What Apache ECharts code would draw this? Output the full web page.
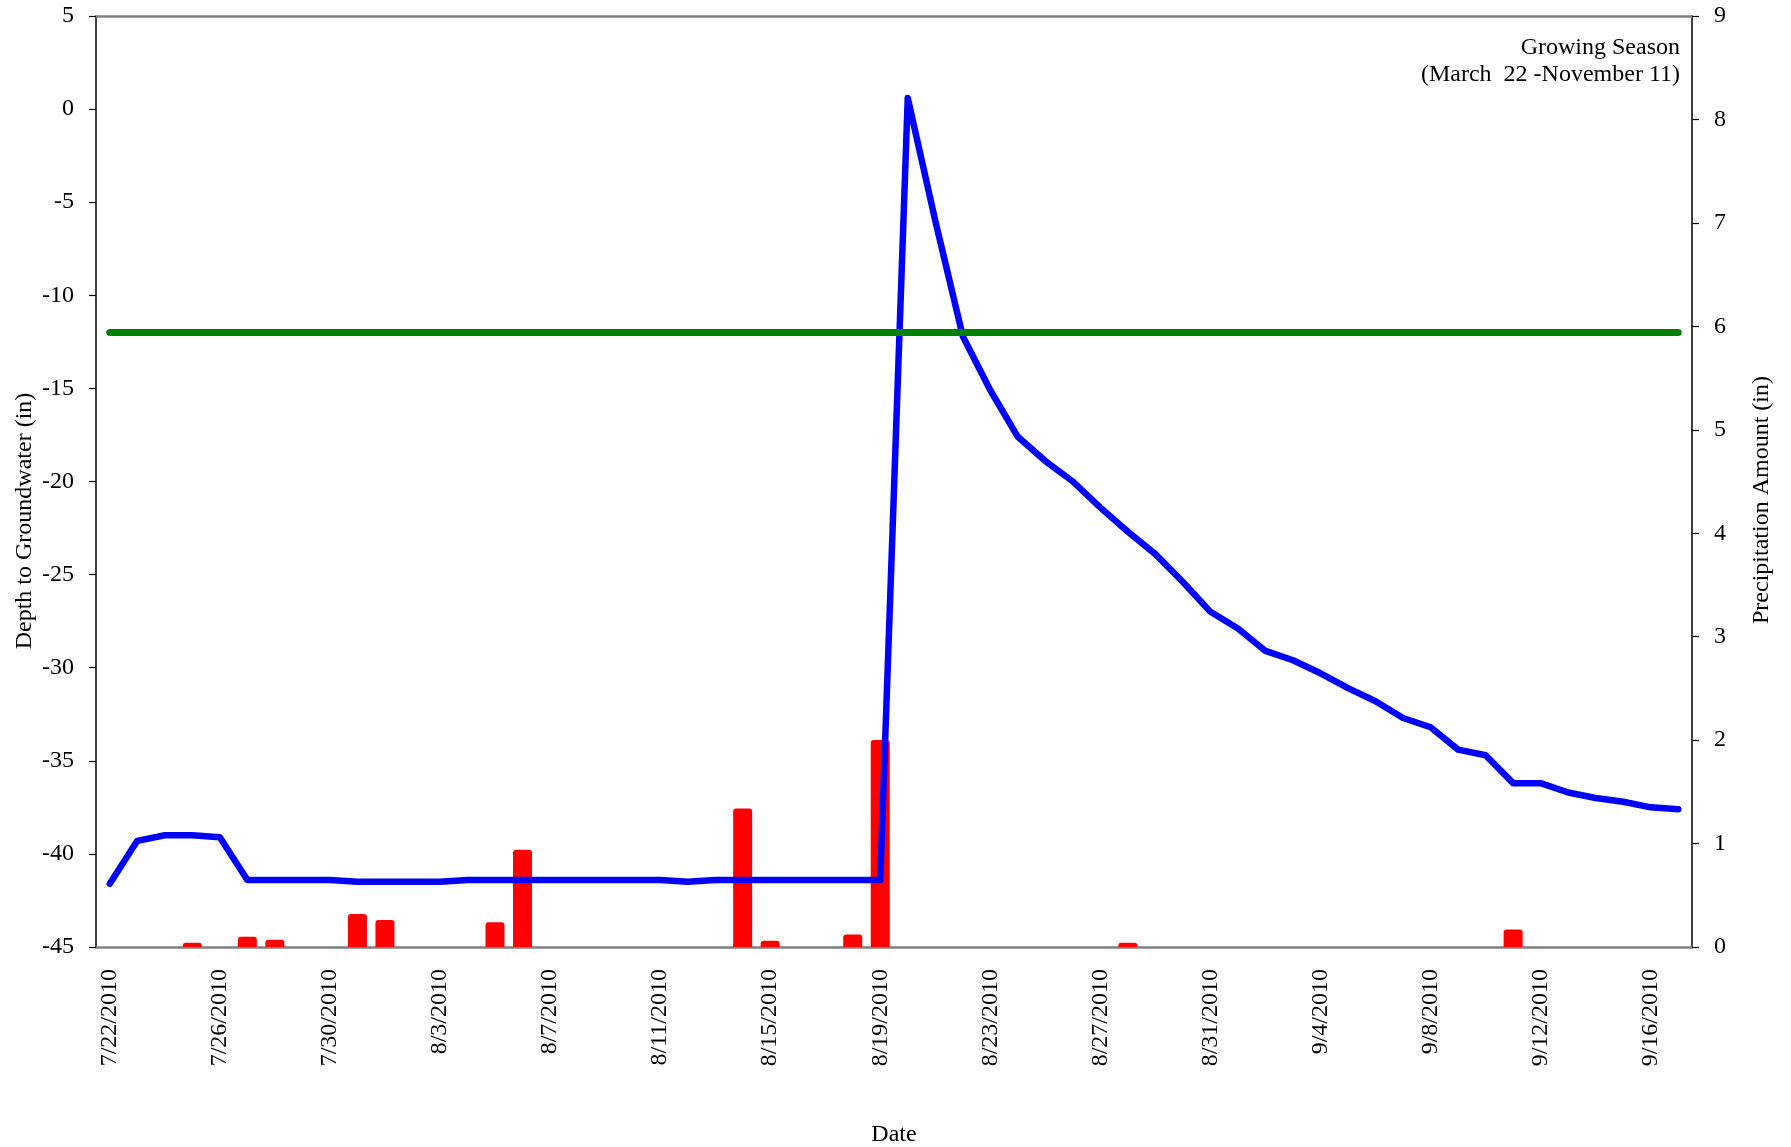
<!DOCTYPE html>
<html>
<head>
<meta charset="utf-8">
<script src="https://cdn.jsdelivr.net/npm/echarts@6/dist/echarts.min.js"></script>
<style>
html,body{margin:0;padding:0;background:#fff;}
#chart{width:1791px;height:1147px;}
</style>
</head>
<body>
<div id="chart"></div>
<script>
const dates = [
 "7/22/2010","7/23/2010","7/24/2010","7/25/2010","7/26/2010","7/27/2010","7/28/2010","7/29/2010","7/30/2010","7/31/2010",
 "8/1/2010","8/2/2010","8/3/2010","8/4/2010","8/5/2010","8/6/2010","8/7/2010","8/8/2010","8/9/2010","8/10/2010",
 "8/11/2010","8/12/2010","8/13/2010","8/14/2010","8/15/2010","8/16/2010","8/17/2010","8/18/2010","8/19/2010","8/20/2010",
 "8/21/2010","8/22/2010","8/23/2010","8/24/2010","8/25/2010","8/26/2010","8/27/2010","8/28/2010","8/29/2010","8/30/2010",
 "8/31/2010","9/1/2010","9/2/2010","9/3/2010","9/4/2010","9/5/2010","9/6/2010","9/7/2010","9/8/2010","9/9/2010",
 "9/10/2010","9/11/2010","9/12/2010","9/13/2010","9/14/2010","9/15/2010","9/16/2010","9/17/2010"
];
const depthToGroundwater = [
 -41.6,-39.3,-39.0,-39.0,-39.1,-41.4,-41.4,-41.4,-41.4,-41.5,
 -41.5,-41.5,-41.5,-41.4,-41.4,-41.4,-41.4,-41.4,-41.4,-41.4,
 -41.4,-41.5,-41.4,-41.4,-41.4,-41.4,-41.4,-41.4,-41.4,0.6,
 -6.0,-12.2,-15.1,-17.6,-18.9,-20.0,-21.4,-22.7,-23.9,-25.4,
 -27.0,-27.9,-29.1,-29.6,-30.3,-31.1,-31.8,-32.7,-33.2,-34.4,
 -34.7,-36.2,-36.2,-36.7,-37.0,-37.2,-37.5,-37.6
];
const precipitation = [
 0,0,0,0.04,0,0.10,0.07,0,0,0.32,
 0.26,0,0,0,0.24,0.94,0,0,0,0,
 0,0,0,1.34,0.06,0,0,0.12,2.00,0,
 0,0,0,0,0,0,0,0.04,0,0,
 0,0,0,0,0,0,0,0,0,0,
 0,0.17,0,0,0,0,0,0
];
const thresholdDepth = -12;
const leftAxisRange = [-45, 5, 5];
const rightAxisRange = [0, 9, 1];
const titles = {
  left: "Depth to Groundwater (in)",
  right: "Precipitation Amount (in)",
  x: "Date",
  note1: "Growing Season",
  note2: "(March  22 -November 11)"
};

const FONT = "'Liberation Serif','Times New Roman',serif";
const chart = echarts.init(document.getElementById('chart'), null, {renderer: 'canvas'});
const option = {
  animation: false,
  backgroundColor: '#ffffff',
  grid: {left: 96, right: 99, top: 16, bottom: 200, containLabel: false, outerBoundsMode: 'none'},
  xAxis: [{
    type: 'category',
    data: dates,
    boundaryGap: true,
    position: 'bottom',
    axisLine: {show: true, onZero: false, lineStyle: {color: '#808080', width: 2.5}},
    axisTick: {show: false},
    axisLabel: {interval: 3, rotate: 90, margin: 22, fontFamily: FONT, fontSize: 24, color: '#000'},
    splitLine: {show: false}
  }, {
    type: 'category',
    data: dates,
    position: 'top',
    boundaryGap: true,
    axisLine: {show: true, onZero: false, lineStyle: {color: '#808080', width: 2.5}},
    axisTick: {show: false},
    axisLabel: {show: false},
    splitLine: {show: false}
  }],
  yAxis: [{
    type: 'value',
    min: leftAxisRange[0], max: leftAxisRange[1], interval: leftAxisRange[2],
    position: 'left',
    axisLine: {show: true, onZero: false, lineStyle: {color: '#000', width: 1.5}},
    axisTick: {show: true, inside: false, length: 7, lineStyle: {color: '#000', width: 1.2}},
    axisLabel: {margin: 22, fontFamily: FONT, fontSize: 24, color: '#000'},
    splitLine: {show: false}
  }, {
    type: 'value',
    min: rightAxisRange[0], max: rightAxisRange[1], interval: rightAxisRange[2],
    position: 'right',
    axisLine: {show: true, onZero: false, lineStyle: {color: '#000', width: 1.5}},
    axisTick: {show: true, inside: false, length: 7, lineStyle: {color: '#000', width: 1.2}},
    axisLabel: {margin: 22, fontFamily: FONT, fontSize: 24, color: '#000'},
    splitLine: {show: false}
  }],
  series: [{
    name: 'Precipitation',
    type: 'bar',
    xAxisIndex: 0, yAxisIndex: 1,
    data: precipitation,
    barWidth: 19,
    itemStyle: {color: '#ff0000', borderRadius: [3, 3, 0, 0]},
    z: 2
  }, {
    name: 'Depth',
    type: 'line',
    xAxisIndex: 0, yAxisIndex: 0,
    data: depthToGroundwater,
    symbol: 'none',
    lineStyle: {color: '#0000ff', width: 6.5, cap: 'round', join: 'round'},
    z: 3
  }, {
    name: 'Threshold',
    type: 'line',
    xAxisIndex: 0, yAxisIndex: 0,
    data: [[dates[0], thresholdDepth], [dates[dates.length - 1], thresholdDepth]],
    symbol: 'none',
    lineStyle: {color: '#008000', width: 7, cap: 'round'},
    z: 4
  }],
  graphic: [{
    type: 'text', x: 25, y: 521, rotation: Math.PI / 2,
    style: {text: titles.left, font: "24px " + FONT, fill: '#000', textAlign: 'center', textVerticalAlign: 'middle'}
  }, {
    type: 'text', x: 1762, y: 500, rotation: Math.PI / 2,
    style: {text: titles.right, font: "24px " + FONT, fill: '#000', textAlign: 'center', textVerticalAlign: 'middle'}
  }, {
    type: 'text', x: 894, y: 1135,
    style: {text: titles.x, font: "24px " + FONT, fill: '#000', textAlign: 'center', textVerticalAlign: 'middle'}
  }, {
    type: 'text', x: 1680, y: 48,
    style: {text: titles.note1, font: "24px " + FONT, fill: '#000', textAlign: 'right', textVerticalAlign: 'middle'}
  }, {
    type: 'text', x: 1680, y: 75,
    style: {text: titles.note2, font: "24px " + FONT, fill: '#000', textAlign: 'right', textVerticalAlign: 'middle'}
  }]
};
chart.setOption(option);
</script>
</body>
</html>
